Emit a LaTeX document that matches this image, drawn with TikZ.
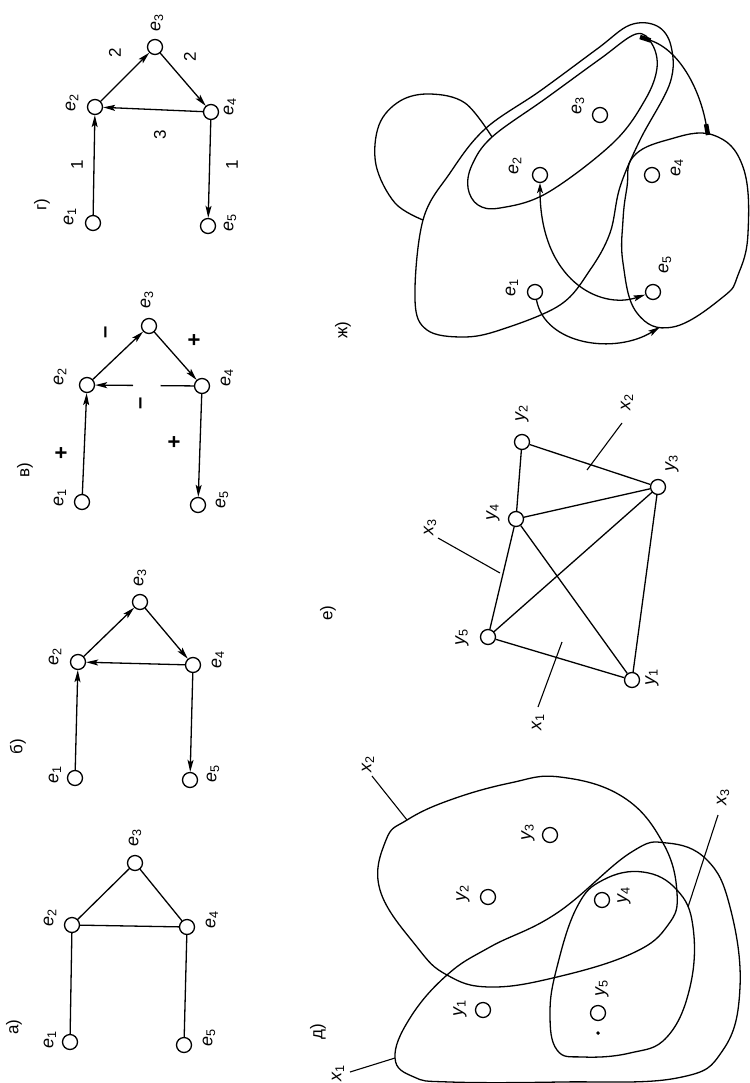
\documentclass[tikz,border=0pt]{standalone}
\usepackage{fontspec}
\setmainfont{Liberation Sans}
\usetikzlibrary{arrows.meta,calc}
\tikzset{
  %% vertex circle
  vtx/.style={circle,draw,line width=1.3pt,minimum size=15pt,inner sep=0pt},
  %% rotated texts
  lbl/.style={rotate=90,font=\fontsize{18}{20}\selectfont\itshape,inner sep=0pt},
  ttl/.style={rotate=90,font=\fontsize{17}{19}\selectfont,inner sep=0pt},
  sgn/.style={rotate=90,font=\fontsize{22}{24}\selectfont\bfseries,inner sep=0pt},
  wgt/.style={rotate=90,font=\fontsize{17}{19}\selectfont,inner sep=0pt},
  %% lines
  edg/.style={line width=1.3pt},
  arr/.style={line width=1.3pt,-{Stealth[length=12pt,width=6pt,inset=2.5pt]}},
  darr/.style={line width=1.3pt,{Stealth[length=10pt,width=6pt,inset=2.5pt]}-{Stealth[length=12pt,width=6pt,inset=2.5pt]}},
  crv/.style={line width=1.3pt},
  ldr/.style={line width=1.1pt},
  mrk/.style={line width=1.3pt,{Rectangle[length=11pt,width=4.5pt]}-{Rectangle[length=11pt,width=4.5pt]}},
}
\newcommand{\vl}[2]{#1\textsubscript{\upshape #2}}

\begin{document}
\begin{tikzpicture}[x=1pt,y=-1pt]
\useasboundingbox (0,0) rectangle (749,1083);

%% a)
\node[ttl] (ta) at (14,1027) {а)};
\node[vtx] (a1) at (70,1042) {};
\node[vtx] (a2) at (72,925) {};
\node[vtx] (a3) at (135,863) {};
\node[vtx] (a4) at (187,927) {};
\node[vtx] (a5) at (184,1045) {};
\node[lbl] (a1l) at (50,1040) {\vl{e}{1}};
\node[lbl] (a2l) at (50,918) {\vl{e}{2}};
\node[lbl] (a3l) at (135,838) {\vl{e}{3}};
\node[lbl] (a4l) at (212,920) {\vl{e}{4}};
\node[lbl] (a5l) at (209,1038) {\vl{e}{5}};
\draw[edg] (a1) -- (a2) -- (a3) -- (a4) -- (a5) (a2) -- (a4);

%% b)
\node[ttl] (tb) at (18,747) {б)};
\node[vtx] (b1) at (75,778) {};
\node[vtx] (b2) at (78,662) {};
\node[vtx] (b3) at (140,602) {};
\node[vtx] (b4) at (193,665) {};
\node[vtx] (b5) at (190,780) {};
\node[lbl] (b1l) at (55,775) {\vl{e}{1}};
\node[lbl] (b2l) at (55,657) {\vl{e}{2}};
\node[lbl] (b3l) at (140,578) {\vl{e}{3}};
\node[lbl] (b4l) at (218,660) {\vl{e}{4}};
\node[lbl] (b5l) at (213,774) {\vl{e}{5}};
\draw[arr] (b1) -- (b2);
\draw[arr] (b2) -- (b3);
\draw[arr] (b3) -- (b4);
\draw[arr] (b4) -- (b2);
\draw[arr] (b4) -- (b5);

%% v)
\node[ttl] (tc) at (25,470) {в)};
\node[vtx] (c1) at (82,502) {};
\node[vtx] (c2) at (87,385) {};
\node[vtx] (c3) at (149,326) {};
\node[vtx] (c4) at (202,386) {};
\node[vtx] (c5) at (198,505) {};
\node[lbl] (c1l) at (60,498) {\vl{e}{1}};
\node[lbl] (c2l) at (60,377) {\vl{e}{2}};
\node[lbl] (c3l) at (147,300) {\vl{e}{3}};
\node[lbl] (c4l) at (227,378) {\vl{e}{4}};
\node[lbl] (c5l) at (222,500) {\vl{e}{5}};
\draw[arr] (c1) -- (c2);
\draw[arr] (c2) -- (c3);
\draw[arr] (c3) -- (c4);
\draw[edg] (c4) -- ($(c4)!0.36!(c2)$);
\draw[arr] ($(c4)!0.6!(c2)$) -- (c2);
\draw[arr] (c4) -- (c5);
\node[sgn] (c12s) at (62,453) {+};
\node[sgn] (c23s) at (108,332) {–};
\node[sgn] (c34s) at (195,340) {+};
\node[sgn] (c42s) at (143,403) {–};
\node[sgn] (c45s) at (175,442) {+};

%% g)
\node[ttl] (td) at (42,205) {г)};
\node[vtx] (d1) at (93,223) {};
\node[vtx] (d2) at (95,107) {};
\node[vtx] (d3) at (155,47) {};
\node[vtx] (d4) at (211,112) {};
\node[vtx] (d5) at (208,226) {};
\node[lbl] (d1l) at (70,217) {\vl{e}{1}};
\node[lbl] (d2l) at (72,103) {\vl{e}{2}};
\node[lbl] (d3l) at (157,23) {\vl{e}{3}};
\node[lbl] (d4l) at (230,107) {\vl{e}{4}};
\node[lbl] (d5l) at (230,223) {\vl{e}{5}};
\draw[arr] (d1) -- (d2);
\draw[arr] (d2) -- (d3);
\draw[arr] (d3) -- (d4);
\draw[arr] (d4) -- (d2);
\draw[arr] (d4) -- (d5);
\node[wgt] (d12w) at (77,165) {1};
\node[wgt] (d23w) at (115,53) {2};
\node[wgt] (d34w) at (190,57) {2};
\node[wgt] (d42w) at (160,135) {3};
\node[wgt] (d45w) at (232,165) {1};

%% d)
\node[ttl] (tg) at (318,1032) {д)};
\node[vtx] (g1) at (483,1010) {};
\node[vtx] (g2) at (488,897) {};
\node[vtx] (g3) at (550,835) {};
\node[vtx] (g4) at (602,900) {};
\node[vtx] (g5) at (598,1013) {};
\node[circle,fill,inner sep=1.4pt] (g5d) at (598,1033) {};
\node[lbl] (g1l) at (460,1008) {\vl{y}{1}};
\node[lbl] (g2l) at (463,893) {\vl{y}{2}};
\node[lbl] (g3l) at (528,832) {\vl{y}{3}};
\node[lbl] (g4l) at (624,895) {\vl{y}{4}};
\node[lbl] (g5l) at (602,988) {\vl{y}{5}};
\draw[crv] plot[smooth cycle,tension=0.7] coordinates {(407,820) (450,800) (510,783)
  (560,777) (623,797) (663,843) (677,893) (668,925) (633,953) (557,977) (490,987)
  (447,975) (417,947) (380,890) (386,840)};
\draw[crv] plot[smooth cycle,tension=0.7] coordinates {(395,1058) (410,1018) (447,975)
  (490,947) (557,913) (630,853) (667,843) (707,860) (730,907) (740,987) (723,1050)
  (677,1078) (560,1082) (450,1082) (414,1077)};
\draw[crv] plot[smooth cycle,tension=0.7] coordinates {(557,967) (577,907) (603,880)
  (643,872) (677,890) (693,927) (690,987) (667,1037) (630,1053) (583,1057) (557,1050)
  (550,1013)};
\coordinate (gx1) at (395,1058);
\coordinate (gx2) at (407,820);
\coordinate (gx3) at (688,907);
\node[lbl] (gx1l) at (338,1073) {\vl{x}{1}};
\node[lbl] (gx2l) at (368,764) {\vl{x}{2}};
\node[lbl] (gx3l) at (723,797) {\vl{x}{3}};
\draw[ldr] (gx1) -- (350,1072);
\draw[ldr] (gx2) -- (372,776);
\draw[ldr] (gx3) -- (718,815);

%% e)
\node[ttl] (tf) at (328,613) {е)};
\node[vtx] (f1) at (632,680) {};
\node[vtx] (f2) at (522,442) {};
\node[vtx] (f3) at (658,487) {};
\node[vtx] (f4) at (516,519) {};
\node[vtx] (f5) at (488,637) {};
\node[lbl] (f1l) at (652,677) {\vl{y}{1}};
\node[lbl] (f2l) at (522,413) {\vl{y}{2}};
\node[lbl] (f3l) at (672,463) {\vl{y}{3}};
\node[lbl] (f4l) at (493,512) {\vl{y}{4}};
\node[lbl] (f5l) at (462,637) {\vl{y}{5}};
\draw[edg] (f2) -- (f4) -- (f5) -- (f1) -- (f3) -- (f2)
  (f4) -- (f3) -- (f5) (f4) -- (f1);
\coordinate (fx1) at (562,642);
\coordinate (fx2) at (587,470);
\coordinate (fx3) at (500,573);
\node[lbl] (fx1l) at (538,722) {\vl{x}{1}};
\node[lbl] (fx2l) at (627,402) {\vl{x}{2}};
\node[lbl] (fx3l) at (430,527) {\vl{x}{3}};
\draw[ldr] (fx1) -- (538,707);
\draw[ldr] (fx2) -- (622,423);
\draw[ldr] (fx3) -- (438,538);

%% zh)
\node[ttl] (th) at (343,330) {ж)};
\node[vtx] (h1) at (535,292) {};
\node[vtx] (h2) at (540,175) {};
\node[vtx] (h3) at (600,115) {};
\node[vtx] (h4) at (652,175) {};
\node[vtx] (h5) at (653,292) {};
\node[lbl] (h1l) at (512,288) {\vl{e}{1}};
\node[lbl] (h2l) at (515,166) {\vl{e}{2}};
\node[lbl] (h3l) at (578,106) {\vl{e}{3}};
\node[lbl] (h4l) at (677,168) {\vl{e}{4}};
\node[lbl] (h5l) at (665,265) {\vl{e}{5}};
% blob round e4, e5
\draw[crv] plot[smooth cycle,tension=0.7] coordinates {(633,157) (667,140) (713,135)
  (743,167) (748,233) (738,275) (723,297) (673,327) (637,313) (623,263) (623,220)
  (627,187)};
% oval round e2, e3
\draw[crv] plot[smooth cycle,tension=0.6] coordinates {(468,188) (478,205) (500,208)
  (547,193) (613,143) (645,100) (657,68) (652,44) (636,34) (600,59) (545,99)
  (492,137) (472,165)};
% big curve
\draw[crv] plot[smooth cycle,tension=0.6] coordinates {(415,300) (423,220) (450,173)
  (485,129) (540,91) (597,49) (630,25) (657,26) (671,46) (670,83) (640,140)
  (620,187) (610,233) (590,270) (560,305) (500,330) (463,337) (427,330)};
% loop
\coordinate (hl1) at (423,220);
\coordinate (hl2) at (492,137);
\draw[crv] plot[smooth,tension=0.6] coordinates {(hl1) (395,203) (376,165) (379,125)
  (400,101) (430,94) (465,103) (hl2)};
% arcs
\coordinate (hA) at (660,327);
\coordinate (hB1) at (708,135);
\coordinate (hB2) at (640,37);
\draw[arr] (h1) .. controls (545,345) and (615,355) .. (hA);
\draw[darr] (h2) .. controls (540,280) and (600,310) .. (h5);
\draw[mrk] (hB1) .. controls (700,90) and (680,50) .. (hB2);
\end{tikzpicture}
\end{document}
